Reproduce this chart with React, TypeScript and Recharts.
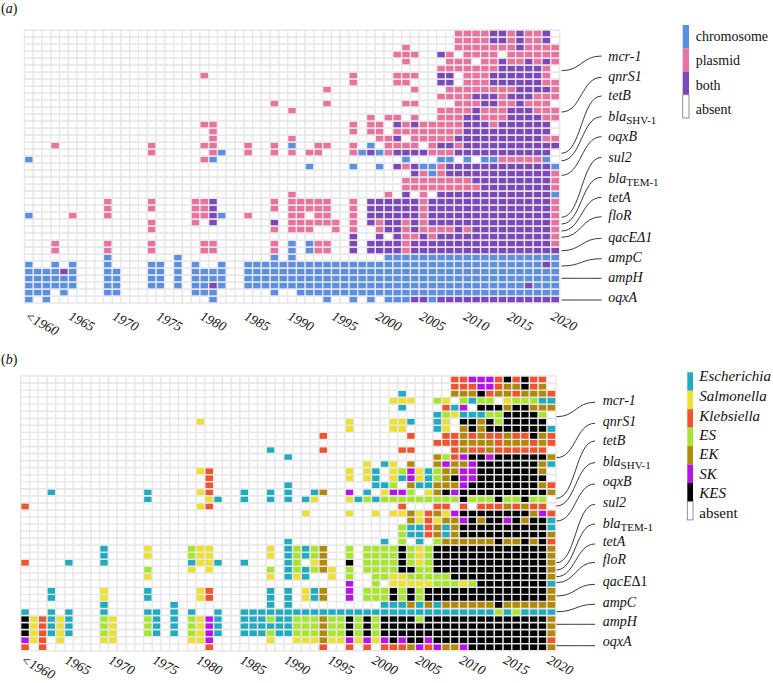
import React from "react";
import { BarChart, Bar, Cell, XAxis, YAxis } from "recharts";

const serif = "'Liberation Serif', serif";

const years = ["<1960", ...Array.from({ length: 60 }, (_, i) => String(1961 + i))];

// rows top to bottom; token = letter + column or column range
const locationRows = [
  "p49-52 v53-54 p55 v56 p57-58 v59",
  "p49-52 v53-54 p55 v56 p57-58 v59",
  "p43 p49-55 v56 p57-60",
  "p42-44 v47 p48 p50-53 p55-60",
  "p43 p48-50 p52-53 v54 p55-56 v57 p58 v59 p60",
  "p47-53 v54-58 p59",
  "p20 p37 p42-44 v47-48 p50-52 v53-58 p59",
  "p37 p42-43 v47-48 p50-52 v53-58 p59-60",
  "p34 p44 p48-55 v56-59 p60",
  "p47-50 v51-53 p54 v55-57 p58-60",
  "p28 p34 p43-44 p49-51 v52-53 p54-55 v56 p57-59",
  "p30 p47-50 v51 p52-54 v55-57 p58-60",
  "p39 p41-42 p44 p47-49 v50-51 p52-54 v55-58 p59-60",
  "p20-21 p37 p39-40 v42 p43 v44 p45-49 v50-52 p53 v54-59",
  "p21 p37 p39-40 p42-49 v50-59",
  "p21 p30 p40-41 v42 p44-48 v49-58 p59-60",
  "p3 p14 p20-21 p25 p28 b30 p33-34 p37 b39 p41-44 p46 v47-48 p49 v50-60",
  "p14 p21 b22 p25 p28 p30 p32-33 p37 b38 v39 b40 p41 v42-45 p46-48 v49-59",
  "b0 p20 b21 b43 b47-48 b50 b52-53 p54-58 b59",
  "b32 b37 b40 v42 p43 v44 b45-46 p47 v48-59 b60",
  "v44 p45 b46 p47 v48-59 p60",
  "p43-50 v51-59 p60",
  "p43-51 v52-59 p60",
  "p30 p41 v43 p45 v47-59 b60",
  "p9 p14 p19-20 v21 p28 p30-34 p37 v39-44 p45 v46-59 p60",
  "p9 p14 p19-20 v21 p28 p30-34 p37 v39-44 p45 v46-59 p60",
  "b0 p5 p9 p19-20 v21 b22 p25 p30-31 p33-34 p37 v39-44 p45 v46-59 p60",
  "p14 p19 v21 v28 p30-35 p37 v39 p40 v41-42 p43 v44 p45 v46-59 p60",
  "p14 p28 p30-32 p35 p37 p40 v41-42 p43 v44 p45-48 v49 p50 v51-59 p60",
  "v37 v40 v42 p43-44 v45 p46 v47-59 p60",
  "p3 p9 p14 p20-21 p28 b30 b32 p33-34 v37 v39-42 p43 v44-59 p60",
  "p3 p9 p14 p20-21 p28 b30 b32 p33-34 v37 v39-42 p43 v44-60",
  "b9 b17 b28 b30 b41-60",
  "b0 b3 b5 b9 b14-15 b17 b19 b22 b25-58 v59 b60",
  "b0-3 v4 b5 b9-10 b14-15 b17 b19-22 b25-60",
  "b0-5 b9-10 b14-15 b17 b19-22 b25-60",
  "b0-5 b9-10 b14-15 b17 b19-20 v21 b22 b25-56 v57 b58-60",
  "b0-2 b4 b9-10 b19-21 b28 b31-60",
  "b0 b2 b21 b34 b37 b39 b41-43 v44-45 b46 v47-60",
];

const genusRows = [
  "k49-50 m51-53 k54 x55 k56 x57 k58-59",
  "k49-51 m52-53 k54 g55-56 x57 k58 g59",
  "e43 g49-51 x52 k53 g54-55 k56 g57-59 k60",
  "s42-44 l47 s48 l50 e51 l52-53 s55 l56-58 e59-60",
  "e43 k48 e49 m50 x52-54 g55 x56-57 g58-60",
  "e47 l48 s49 e50-52 l53-54 x55-58 l59",
  "s20 s37 s42-43 e44 e47 s48 x50-51 g52 x53 l54 x55-59",
  "s37 s42-43 e47 s48 g50 x51 g52 x53-59 e60",
  "k34 k44 k48-49 g50 k51 g52 k53-54 g55 k56-57 x58 g59 k60",
  "k47-49 g50-53 k54 g55-57 k58 g59 k60",
  "e28 k34 k43-44 k49 g50 k51-52 g53 k54-59",
  "e30 g47 l48 k49 m50 x51-52 m53 x54-59 g60",
  "s39 e41 s42 g44 g47 m48 g49-50 m51 x52-58 g59 e60",
  "s20 k21 s37 s39 e40 s42 l43 m44 s45 e46 l47 g48-49 m50-51 x52-58 g59",
  "k21 s37 s39 e40 s42 e43 m44 s45 e46 l47 g48 x49 m50-51 x52-59",
  "k21 e30 e40-41 l42 g44 e45-46 g47-49 m50 x51-58 g59 k60",
  "e3 e14 s20 k21 e25 e28 e30 e33 g34 m37 e39 s41 m42-43 l44 s46 g47 x48 m49 x50-59 g60",
  "e14 s21 e22 e25 e28 e30 e32 s33 s37 e38 l39 e40 l41-49 x50 l51-53 x54 l55-56 x57 l58-59",
  "k0 s20 k21 k43 k47-48 k50 k52-54 g55 k56 g57 k58-59",
  "s32 s37 s40 s42-43 g44 s45 k46 g47 s48 m49 x50-57 g58 m59 k60",
  "g44 s45 k46 s47 g48-49 m50 x51 g52 x53-54 m55 x56 g57 x58-59 e60",
  "l43 e44-45 k46 g47 e48 g49 x50-59 e60",
  "l43 e44-45 k46 g47 e48 g49 x50-59 g60",
  "e30 e41 l43 e45 l47 g48-53 x54 g55-56 x57 g58 x59 k60",
  "e9 s14 l19 s20-21 s28 e30 l31 e32 l33 g34 l37 l39-42 x43 l44 s45 l46 x47-59 g60",
  "e9 s14 l19 s20-21 s28 e30 l31 e32 l33 g34 l37 l39-42 x43 l44 s45 l46 x47-59 g60",
  "k0 e5 e9 e19 s20-21 e22 e25 e30 l31 s33 g34 x37 l39-42 x43 l44 s45 l46 x47-59 g60",
  "l14 s19 s21 l28 e30 l31 e32 l33 g34 s35 l37 l39-42 x43-44 l45-46 x47-59 g60",
  "s14 s28 e30 s31 e32 s35 l37 l40-41 s42-43 l44-48 x49-59 g60",
  "m37 l40 s42-46 l47-49 s50 l51 x52-59 e60",
  "e3 s9 e14 s20 k21 e28 e30 s32 e33 g34 m37 l39-41 x42 l43 x44 l45 x46-59 g60",
  "e3 s9 e14 s20 k21 e28 e30 s32 e33 g34 m37 l39-41 x42 l43 x44 l45 x46-59 g60",
  "e9 e17 e28 e30 e41-43 g44 e45 g46 e47 g48-53 x54 g55-60",
  "e0 e3 e5 e9 e14-15 e17 e19 e22 e25-53 l54 e55 l56 e57-60",
  "x0 s1 k2 e3 s4 e5 l9 s10 l14 e15 e17 l19 s20 m21 e22 e25-27 l28 e29-30 l31-33 g34 l35-36 x37 l38 x39 l40 x41-44 l45 x46-59 g60",
  "x0 s1 k2 e3 s4 e5 l9 s10 l14 e15 e17 l19 s20 m21 e22 e25-30 l31-33 g34 l35-36 x37 l38 x39 l40 x41-59 g60",
  "x0 s1 k2 e3 s4 e5 l9 s10 l14 e15 e17 l19 s20 m21 e22 e25-27 l28 e29-30 l31-33 g34 l35-36 x37 l38 x39 l40 x41-59 g60",
  "m0 s1 k2 s4 s9-10 s19-20 m21 s28 s31-33 g34 s35-36 m37 s38 m39 s40 m41 x42 m43 x44-45 m46 x47-59 k60",
  "k0 k2 k21 k34 k37 k39 k41-43 g44 m45 k46 m47 g48-49 m50 x51-59 g60",
];

const locationColors: Record<string, string> = { b: "#5a8fe2", p: "#e9729f", v: "#7c47b8" };
const genusColors: Record<string, string> = {
  e: "#1fabc0", s: "#eee030", k: "#f4522c", l: "#a8e62c", g: "#b08a05", m: "#b812e8", x: "#000000",
};

const locationLegend = [
  { label: "chromosome", color: "#5a8fe2" },
  { label: "plasmid", color: "#e9729f" },
  { label: "both", color: "#7c47b8" },
  { label: "absent", color: "#ffffff" },
];
const genusLegend = [
  { label: "Escherichia", color: "#1fabc0" },
  { label: "Salmonella", color: "#eee030" },
  { label: "Klebsiella", color: "#f4522c" },
  { label: "ES", color: "#a8e62c" },
  { label: "EK", color: "#b08a05" },
  { label: "SK", color: "#b812e8" },
  { label: "KES", color: "#000000" },
  { label: "absent", color: "#ffffff" },
];

const genes = ["mcr-1", "qnrS1", "tetB", "blaSHV-1", "oqxB", "sul2", "blaTEM-1", "tetA", "floR", "qacEΔ1", "ampC", "ampH", "oqxA"];
const labelBaselinesA = [60.7, 81.3, 100, 120.7, 140.7, 161.7, 182.7, 201.7, 220, 241.7, 262.3, 281.7, 301.7];
const labelBaselinesB = [405, 426, 445, 466, 486, 506.7, 527.7, 546, 564.3, 585.7, 606.7, 626, 646];
const linkStartA = [70.7, 112, 153.3, 160.7, 175.3, 217.3, 224, 231, 237.3, 250.7, 266, 278.3, 300];
const linkEndA = [56, 77.3, 96, 116.7, 136.7, 157.3, 177.3, 197.3, 216.7, 238.3, 258.7, 278.3, 300];
const linkStartB = [416.7, 457.7, 498.3, 506, 521, 562.7, 570, 576.7, 582.7, 596, 611.7, 624.3, 645.7];
const linkEndB = [402.3, 423.3, 441, 462.7, 484, 504.3, 524, 544, 562.3, 584.3, 604.3, 624.3, 645.7];

function parseRow(spec: string): Record<number, string> {
  const out: Record<number, string> = {};
  spec.split(" ").forEach((t) => {
    const m = t.match(/^([a-z])(\d+)(?:-(\d+))?$/);
    if (!m) return;
    const a = +m[2];
    const b = m[3] ? +m[3] : a;
    for (let c = a; c <= b; c++) out[c] = m[1];
  });
  return out;
}

const YearTick = (props: any) => {
  const { x, y, payload, shiftY } = props;
  return (
    <text
      transform={`translate(${x - 5},${y + shiftY}) rotate(28)`}
      fontFamily={serif}
      fontStyle="italic"
      fontSize={13.5}
      fill="#111"
    >
      {payload.value}
    </text>
  );
};

function Heat({ rows, colors, top, height, left, plotBottom, tickShift }: any) {
  const parsed = rows.map(parseRow);
  const data = years.map((y) => {
    const d: any = { year: y };
    rows.forEach((_: string, r: number) => (d["r" + r] = 1));
    return d;
  });
  const order = rows.map((_: string, r: number) => rows.length - 1 - r);
  const bottomSpace = height - plotBottom;
  return (
    <div style={{ position: "absolute", left: 0, top }}>
      <BarChart
        width={773}
        height={height}
        data={data}
        barCategoryGap={0}
        margin={{ top: 30, left, right: 773 - left - 8.77 * 61, bottom: bottomSpace - 30 }}
      >
        <XAxis dataKey="year" interval={4} height={30} axisLine={false} tickLine={false} tick={<YearTick shiftY={tickShift} />} />
        <YAxis hide domain={[0, rows.length]} />
        {order.map((r: number) => (
          <Bar
            key={r}
            dataKey={"r" + r}
            stackId="a"
            isAnimationActive={false}
            stroke="#e7e7e7"
            strokeWidth={1.4}
            fill="#fff"
          >
            {years.map((_, c) => (
              <Cell key={c} fill={colors[parsed[r][c]] || "#ffffff"} />
            ))}
          </Bar>
        ))}
      </BarChart>
    </div>
  );
}

function GeneLabel({ name, x, y, uprightDelta }: any) {
  const common = { fontFamily: serif, fill: "#111", fontSize: 14 };
  if (name.startsWith("bla")) {
    return (
      <text x={x} y={y} {...common} fontStyle="italic">
        bla
        <tspan fontStyle="normal" fontSize={11} dy={3}>
          {name.slice(3)}
        </tspan>
      </text>
    );
  }
  if (uprightDelta && name.includes("Δ")) {
    return (
      <text x={x} y={y} {...common} fontStyle="italic">
        qacE<tspan fontStyle="normal">Δ1</tspan>
      </text>
    );
  }
  return (
    <text x={x} y={y} {...common} fontStyle="italic">
      {name}
    </text>
  );
}

function Links({ starts, ends, x0, x1 }: any) {
  return (
    <>
      {starts.map((s: number, i: number) => {
        const mid = (x0 + x1) / 2;
        return (
          <path
            key={i}
            d={`M${x0},${s} C${mid},${s} ${mid},${ends[i]} ${x1},${ends[i]}`}
            fill="none"
            stroke="#222"
            strokeWidth={0.9}
          />
        );
      })}
    </>
  );
}

function LegendBar({ items, x, w, y0, step, textX, baselines, size, italic }: any) {
  return (
    <>
      {items.map((it: any, i: number) => (
        <g key={it.label}>
          <rect
            x={x}
            y={y0 + step * i}
            width={w}
            height={step}
            fill={it.color}
            stroke={it.color === "#ffffff" ? "#777" : "none"}
            strokeWidth={0.8}
          />
          <text
            x={textX}
            y={baselines[i]}
            fontFamily={serif}
            fontSize={size}
            fill="#111"
            fontStyle={italic && it.label !== "absent" ? "italic" : "normal"}
          >
            {it.label}
          </text>
        </g>
      ))}
    </>
  );
}

export default function App() {
  return (
    <div style={{ position: "absolute", left: 0, top: 0, width: 773, height: 683, overflow: "hidden", background: "#fff" }}>
      <Heat rows={locationRows} colors={locationColors} top={0} height={340} left={24.5} plotBottom={303} tickShift={8} />
      <Heat rows={genusRows} colors={genusColors} top={346} height={337} left={20.7} plotBottom={304.7} tickShift={4} />
      <svg width={773} height={683} style={{ position: "absolute", left: 0, top: 0, pointerEvents: "none" }}>
        <text x={1} y={13} fontFamily={serif} fontSize={14} fill="#111">
          (<tspan fontStyle="italic">a</tspan>)
        </text>
        <text x={1} y={364} fontFamily={serif} fontSize={14} fill="#111">
          (<tspan fontStyle="italic">b</tspan>)
        </text>
        <Links starts={linkStartA} ends={linkEndA} x0={561.5} x1={601.5} />
        <Links starts={linkStartB} ends={linkEndB} x0={556.5} x1={595} />
        {genes.map((g, i) => (
          <GeneLabel key={g} name={g} x={608.3} y={labelBaselinesA[i]} />
        ))}
        {genes.map((g, i) => (
          <GeneLabel key={g} name={g} x={602.7} y={labelBaselinesB[i]} uprightDelta />
        ))}
        <LegendBar items={locationLegend} x={682.7} w={6.3} y0={25} step={23.25} textX={695.7} baselines={[40.5, 65, 90, 114]} size={14} />
        <LegendBar items={genusLegend} x={687.3} w={5.7} y0={372.3} step={18.45} textX={699.3} baselines={[381, 400.7, 420.7, 440, 459.3, 479, 498.3, 518]} size={15} italic />
      </svg>
    </div>
  );
}
